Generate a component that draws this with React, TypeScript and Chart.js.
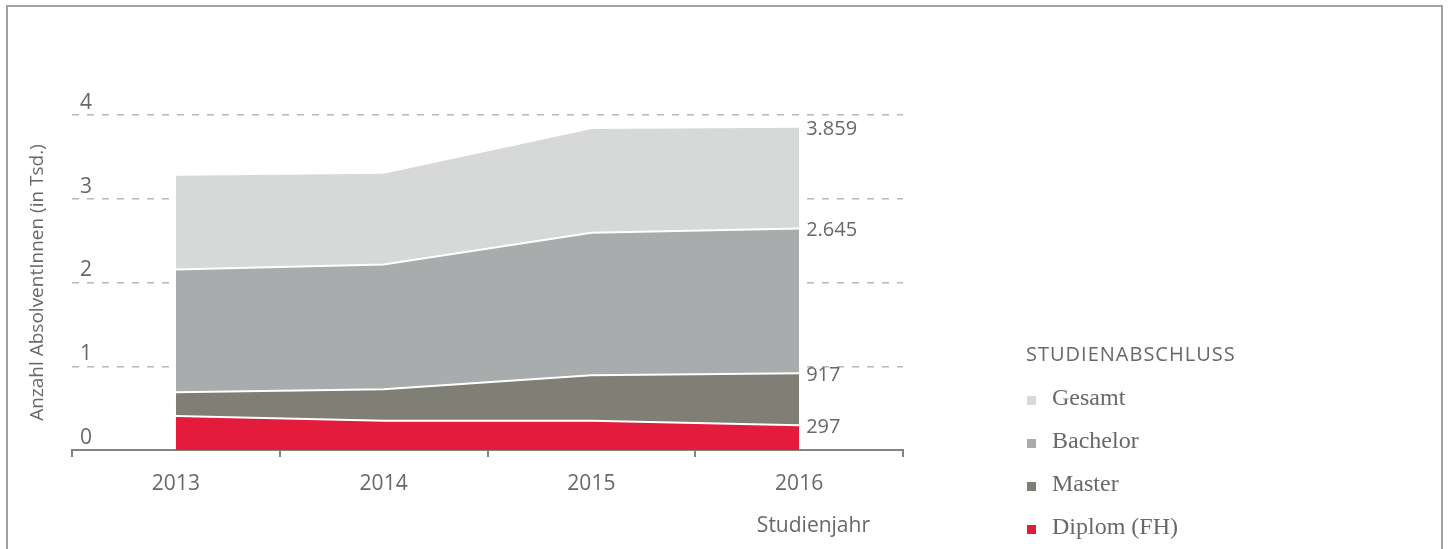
import React, { useEffect, useRef } from 'react';
import { Chart, registerables } from 'chart.js';

Chart.register(...registerables);

// ---- data (in thousands) ----
const years = ['2013', '2014', '2015', '2016'];
const gesamt = [3.286, 3.31, 3.845, 3.859];
const bachelor = [2.155, 2.214, 2.595, 2.645];
const master = [0.69, 0.726, 0.893, 0.917];
const diplom = [0.405, 0.35, 0.35, 0.297];
const seriesNames = ['Gesamt', 'Bachelor', 'Master', 'Diplom (FH)'];
const seriesColors = ['#d7d9d8', '#a9acad', '#807f76', '#e31b3c'];
const yMin = 0;
const yMax = 4;
const yStep = 1;
const legendTitle = 'STUDIENABSCHLUSS';
const yTitle = 'Anzahl AbsolventInnen (in Tsd.)';
const xTitle = 'Studienjahr';

const TEXT = '#686868';
const AXIS = '#85857d';

function fmt(v: number): string {
  const n = Math.round(v * 1000);
  const s = String(n);
  if (s.length <= 3) return s;
  return s.slice(0, s.length - 3) + '.' + s.slice(s.length - 3);
}

const endLabels = {
  id: 'endLabels',
  afterDatasetsDraw(chart: any) {
    const ctx = chart.ctx;
    ctx.save();
    ctx.font = '20px "Open Sans"';
    ctx.fillStyle = TEXT;
    ctx.textAlign = 'left';
    ctx.textBaseline = 'middle';
    chart.data.datasets.forEach((ds: any, i: number) => {
      const meta = chart.getDatasetMeta(i);
      const last = meta.data.length - 1;
      const pt = meta.data[last];
      ctx.fillText(fmt(ds.data[last]), pt.x + 7, pt.y + 2);
    });
    ctx.textAlign = 'right';
    ctx.font = '21px "Open Sans"';
    ctx.fillText(xTitle, chart.chartArea.right - 33, chart.chartArea.bottom + 76);
    ctx.restore();
  },
};

export default function App() {
  const ref = useRef<HTMLCanvasElement | null>(null);

  useEffect(() => {
    if (!ref.current) return;
    const series = [gesamt, bachelor, master, diplom];
    const chart = new Chart(ref.current, {
      type: 'line',
      data: {
        labels: years,
        datasets: series.map((d, i) => ({
          label: seriesNames[i],
          data: d,
          backgroundColor: seriesColors[i],
          borderColor: '#ffffff',
          borderWidth: 2,
          fill: 'origin',
          pointRadius: 0,
          pointHoverRadius: 0,
          tension: 0,
          order: series.length - i,
        })),
      },
      options: {
        responsive: false,
        maintainAspectRatio: false,
        animation: false,
        events: [],
        layout: { padding: { left: 0, right: 547, top: 115, bottom: 39 } },
        plugins: {
          legend: { display: false },
          tooltip: { enabled: false },
          title: { display: false },
        },
        scales: {
          x: {
            type: 'category',
            offset: true,
            z: 1,
            grid: {
              offset: true,
              drawOnChartArea: false,
              drawTicks: true,
              tickLength: 7,
              color: AXIS,
              lineWidth: 2,
            },
            border: { display: true, color: AXIS, width: 2 },
            ticks: {
              color: TEXT,
              font: { family: 'Open Sans', size: 21 },
              padding: 14,
            },
            afterFit: (s: any) => {
              s.height = 60;
            },
          },
          y: {
            min: yMin,
            max: yMax,
            grid: { color: '#b8b8b8', lineWidth: 1.5, drawTicks: false },
            border: { display: false, dash: [7, 8] },
            ticks: {
              stepSize: yStep,
              mirror: true,
              padding: 8,
              labelOffset: -12,
              color: TEXT,
              font: { family: 'Open Sans', size: 21 },
            },
            title: {
              display: true,
              text: yTitle,
              color: TEXT,
              font: { family: 'Open Sans', size: 19 },
              padding: { top: 26, bottom: 0 },
            },
            afterFit: (s: any) => {
              s.width = 72;
            },
          },
        },
      },
      plugins: [endLabels],
    } as any);
    let alive = true;
    if ((document as any).fonts && (document as any).fonts.load) {
      Promise.all([
        (document as any).fonts.load('21px "Open Sans"'),
        (document as any).fonts.load('24px "Liberation Serif"'),
      ]).then(() => {
        if (alive) chart.update();
      }).catch(() => {});
    }
    return () => {
      alive = false;
      chart.destroy();
    };
  }, []);

  const rowTop = 383;
  const rowGap = 43;

  return (
    <div
      style={{
        position: 'absolute',
        left: 0,
        top: 0,
        width: 1450,
        height: 549,
        overflow: 'hidden',
        background: '#ffffff',
      }}
    >
      <div
        style={{
          position: 'absolute',
          left: 6,
          top: 5,
          width: 1437,
          height: 600,
          boxSizing: 'border-box',
          borderTop: '2px solid #a2a298',
          borderLeft: '2px solid #a2a298',
          borderRight: '2px solid #a2a298',
        }}
      />
      <canvas
        ref={ref}
        width={1450}
        height={549}
        style={{ position: 'absolute', left: 0, top: 0, width: 1450, height: 549 }}
      />
      <div
        style={{
          position: 'absolute',
          left: 1026,
          top: 340,
          fontFamily: '"Open Sans", sans-serif',
          fontSize: 20,
          lineHeight: '28px',
          letterSpacing: 1,
          color: TEXT,
          whiteSpace: 'nowrap',
        }}
      >
        {legendTitle}
      </div>
      {seriesNames.map((name, i) => (
        <React.Fragment key={name}>
          <div
            style={{
              position: 'absolute',
              left: 1027,
              top: rowTop + i * rowGap + 14 + 3 - 4.5,
              width: 9,
              height: 9,
              background: seriesColors[i],
            }}
          />
          <div
            style={{
              position: 'absolute',
              left: 1052,
              top: rowTop + i * rowGap,
              fontFamily: '"Liberation Serif", serif',
              fontSize: 24,
              lineHeight: '28px',
              color: TEXT,
              whiteSpace: 'nowrap',
            }}
          >
            {name}
          </div>
        </React.Fragment>
      ))}
    </div>
  );
}
